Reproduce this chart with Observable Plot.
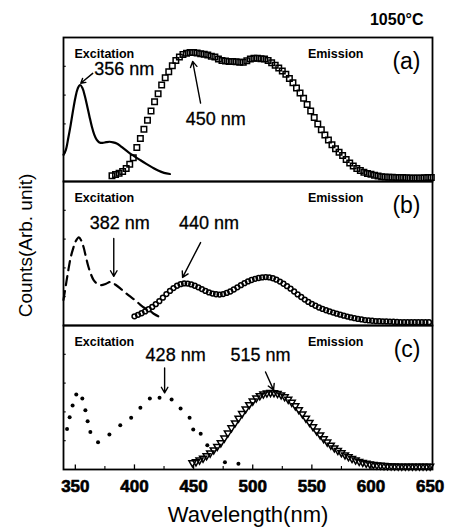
<!DOCTYPE html>
<html><head><meta charset="utf-8">
<script src="https://cdn.jsdelivr.net/npm/d3@7"></script>
<script src="https://cdn.jsdelivr.net/npm/@observablehq/plot@0.6"></script>
<style>html,body{margin:0;padding:0;background:#fff;} #chart svg{display:block;}</style>
</head><body><div id="chart"></div>
<script>
// ---- data ----
const panels = ["a", "b", "c"];
const panelLabels = ["(a)", "(b)", "(c)"];
const xTicks = [350, 400, 450, 500, 550, 600, 650];
const xMinorTicks = [375, 425, 475, 525, 575, 625];

// excitation spectra
const exA_wl = [340,342,344,346,348,350,352,354,356,358,360,362,364,366,368,370,373,376,379,382,385,388,391,395,400,405,410,415,420,425,430];
const exA_val = [18.5,22,30,39,49,58,64.5,67,65,59.5,52.5,45,38,32.5,29,27.3,26.8,27.3,27.6,27.2,26.4,24.8,22.8,20.3,17.5,14.8,12.2,9.8,7.6,6.0,5.2];

const exB_wl = [340,342,344,346,348,350,353,355,357,359,361,363,365.5,368,372,376,380,384,388,392,396.6,401,405,409,413.6,417,421];
const exB_val = [17.8,28,38,47,53,58,61.2,59,54.3,47.5,41,36,31.5,29.3,28,29,30.3,28.3,25.8,23,20,17.2,14.4,12,9.8,7.8,6];

const exC_wl = [343,345.2,347.7,350.8,355.9,358.5,360.4,362.7,369.2,378.8,388,397.2,405,413,421.2,431.4,439,446.6,449.7,456,461.6,476.5,487.9];
const exC_val = [28.2,36.3,44.4,52,49.3,41.2,33.5,26,19,24.3,30.8,35.9,42.8,49.3,49.8,48.6,42.4,35.9,27.8,24.8,16.9,5,4];

// emission spectra (sampled every 3 nm)
const emA_wl = d3.range(381, 652, 3);
const emA_val = [4.0,4.8,5.8,7.0,9.0,12.0,16.5,23.6,29.8,36.3,
 42.6,49.0,55.3,61.0,67.0,72.0,76.3,80.3,84.0,86.5,
 88.2,89.0,89.5,89.6,89.2,88.8,88.4,87.8,87.0,86.4,
 85.0,84.0,83.6,83.4,83.3,83.2,82.8,82.8,83.8,85.0,
 85.6,85.6,85.3,85.0,84.0,82.5,80.8,78.8,76.7,74.5,
 71.5,68.5,65.0,61.5,57.8,53.5,49.0,44.4,40.0,36.0,
 32.3,28.8,25.5,22.8,20.3,18.0,15.2,12.8,10.7,9.0,
 7.6,6.5,5.6,5.0,4.3,3.8,3.3,3.1,3.0,2.9,
 2.8,2.8,2.7,2.6,2.5,2.4,2.4,2.5,2.6,2.7,2.8];

const emB_wl = d3.range(400, 650, 3);
const emB_val = [6.4,7.4,8.5,9.8,11.3,12.9,14.8,16.9,19.3,21.8,
 24.0,26.0,27.6,28.7,29.2,29.1,28.5,27.6,26.5,25.3,
 24.0,23.0,22.2,21.7,21.5,21.8,22.6,23.6,25.0,26.5,
 28.0,29.4,30.6,31.6,32.4,33.0,33.4,33.6,33.4,32.8,
 31.8,30.5,29.0,27.3,25.6,23.6,21.6,19.8,18.0,16.4,
 15.0,13.7,12.5,11.5,10.6,9.8,9.0,8.2,7.5,6.8,
 6.2,5.6,5.1,4.6,4.2,3.8,3.5,3.3,3.1,3.0,
 2.9,2.8,2.7,2.6,2.5,2.4,2.4,2.3,2.3,2.3,
 2.3,2.3,2.3,2.3];

const emC_wl = d3.range(449, 651, 3);
const emC_val = [4.6,5.3,6.5,7.8,9.5,11.4,13.6,16.0,18.5,21.8,
 25.3,28.9,32.3,35.6,38.8,42.0,45.0,47.5,49.6,51.2,
 52.4,53.1,53.4,53.3,52.8,51.8,50.5,48.7,46.6,44.2,
 41.5,38.6,35.6,32.7,29.7,26.8,24.0,21.3,19.0,16.9,
 15.0,13.2,11.6,10.1,8.8,7.6,6.6,5.6,4.9,4.3,
 3.8,3.4,3.1,2.9,2.7,2.6,2.5,2.4,2.3,2.3,
 2.3,2.3,2.3,2.3,2.3,2.3,2.3,2.3];

// peak annotations
const annPanel = ["a", "a", "b", "b", "c", "c"];
const annText = ["356 nm", "450 nm", "382 nm", "440 nm", "428 nm", "515 nm"];
const annX = [366, 468.7, 387.5, 463, 434.8, 506.6];
const annY = [77.9, 43.3, 70.7, 70.7, 79.5, 79.5];
const arrX1 = [364.7, 455.9, 382.5, 455.9, 425.5, 510.8];
const arrY1 = [75.1, 54.4, 60.4, 57.6, 70.5, 67.7];
const arrX2 = [354.6, 449.2, 382.5, 440.7, 425.5, 517.6];
const arrY2 = [68.2, 83.4, 34.1, 33.4, 53.2, 55.3];
const annAnchor = ["start", "middle", "middle", "middle", "middle", "middle"];

// ---- build tables ----
const rows = (panel, wl, val) => wl.slice(0, val.length).map((w, i) => ({panel, wl: w, v: val[i]}));
const exA = rows("a", exA_wl, exA_val);
const exB = rows("b", exB_wl, exB_val);
const exC = rows("c", exC_wl, exC_val);
const emA = rows("a", emA_wl, emA_val);
const emB = rows("b", emB_wl, emB_val);
const emC = rows("c", emC_wl, emC_val);
const ann = annText.map((t, i) => ({panel: annPanel[i], t, x: annX[i], y: annY[i], anchor: annAnchor[i],
  x1: arrX1[i], y1: arrY1[i], x2: arrX2[i], y2: arrY2[i]}));
const panelRows = panels.map((p, i) => ({panel: p, label: panelLabels[i]}));
const tickRows = xTicks.map(t => ({panel: "c", t}));
const ff = "Liberation Sans, Arial, Helvetica, sans-serif";

const chart = Plot.plot({
  width: 457, height: 531,
  marginTop: 36, marginBottom: 61, marginLeft: 63, marginRight: 25,
  style: {fontFamily: ff, background: "#fff", color: "#000"},
  x: {domain: [340, 652], axis: null},
  y: {domain: [0, 100], axis: null},
  fy: {domain: panels, padding: 0, axis: null},
  marks: [
    Plot.frame({stroke: "#000", strokeWidth: 1.8}),
    Plot.ruleX(tickRows, {x: "t", y1: 0, y2: 3.2, fy: "panel", stroke: "#000", strokeWidth: 1.3}),
    Plot.ruleX(xMinorTicks.map(t => ({panel: "c", t})), {x: "t", y1: 0, y2: 2, fy: "panel", stroke: "#000", strokeWidth: 1.1}),
    Plot.ruleY([20, 40, 60, 80], {y: d => d, x1: 340, x2: 342.3, stroke: "#000", strokeWidth: 1.1}),
    Plot.line(exA, {x: "wl", y: "v", fy: "panel", curve: "catmull-rom", stroke: "#000", strokeWidth: 2.2}),
    Plot.line(exB, {x: "wl", y: "v", fy: "panel", curve: "catmull-rom", stroke: "#000", strokeWidth: 2.2, strokeDasharray: "9,6"}),
    Plot.dot(exC, {x: "wl", y: "v", fy: "panel", r: 2, fill: "#000", stroke: null}),
    Plot.dot(emA, {x: "wl", y: "v", fy: "panel", symbol: "square", r: 3.1, stroke: "#000", strokeWidth: 1.5, fill: "none"}),
    Plot.dot(emB, {x: "wl", y: "v", fy: "panel", symbol: "circle", r: 2.4, stroke: "#000", strokeWidth: 1.5, fill: "none"}),
    Plot.dot(emC, {x: "wl", y: "v", fy: "panel", symbol: "triangle", rotate: 180, r: 2.6, stroke: "#000", strokeWidth: 1.5, fill: "none"}),
    Plot.arrow(ann, {x1: "x1", y1: "y1", x2: "x2", y2: "y2", fy: "panel", stroke: "#000", strokeWidth: 1.4, headLength: 7, insetStart: 0, insetEnd: 0}),
    Plot.text(ann, {x: "x", y: "y", text: "t", fy: "panel", textAnchor: "start", filter: d => d.anchor === "start", fontSize: 18, fill: "#000", stroke: "#000", strokeWidth: 0.3}),
    Plot.text(ann, {x: "x", y: "y", text: "t", fy: "panel", textAnchor: "middle", filter: d => d.anchor === "middle", fontSize: 18, fill: "#000", stroke: "#000", strokeWidth: 0.3}),
    Plot.text(panelRows, {fy: "panel", text: () => "Excitation", frameAnchor: "top-left", textAnchor: "start", lineAnchor: "middle", dx: 11, dy: 16, fontSize: 12.5, fontWeight: "bold"}),
    Plot.text(panelRows, {fy: "panel", text: () => "Emission", frameAnchor: "top-right", textAnchor: "end", lineAnchor: "middle", dx: -69, dy: 16, fontSize: 12.5, fontWeight: "bold"}),
    Plot.text(panelRows, {fy: "panel", text: "label", frameAnchor: "top-right", textAnchor: "end", lineAnchor: "middle", dx: -12, dy: 24, fontSize: 23}),
    Plot.text([{panel: "a"}], {fy: "panel", text: () => "1050°C", frameAnchor: "top-right", textAnchor: "end", lineAnchor: "middle", dx: -9, dy: -18, fontSize: 16, fontWeight: "bold"}),
    Plot.text([{panel: "b"}], {fy: "panel", text: () => "Counts(Arb. unit)", frameAnchor: "left", rotate: -90, textAnchor: "middle", lineAnchor: "middle", dx: -38, dy: -8, fontSize: 19}),
    Plot.text([{panel: "c"}], {fy: "panel", text: () => "Wavelength(nm)", frameAnchor: "bottom", textAnchor: "middle", lineAnchor: "middle", dy: 45, fontSize: 22}),
    // x tick labels
    Plot.text(tickRows, {x: "t", fy: "panel", text: d => String(d.t), frameAnchor: "bottom", textAnchor: "middle", lineAnchor: "middle", dy: 17, fontSize: 17, fontWeight: "bold", fill: "#000", stroke: "#000", strokeWidth: 0.6})
  ]
});
document.getElementById("chart").appendChild(chart);
</script>
</body></html>
